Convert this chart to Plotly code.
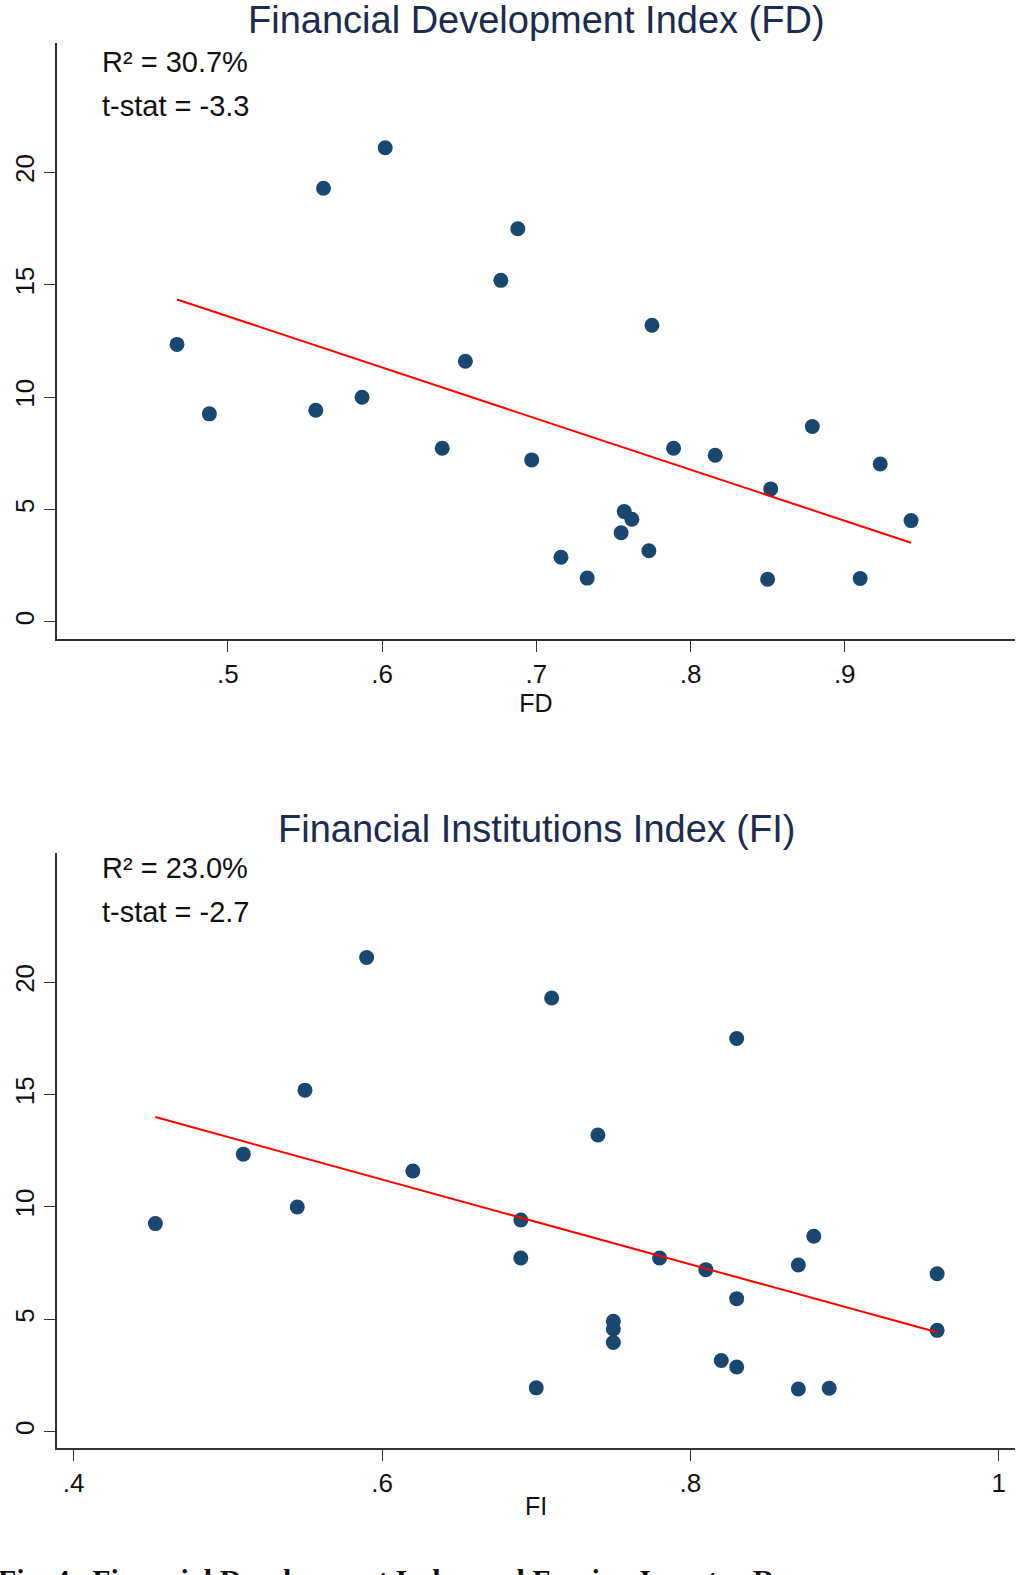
import numpy as np
import plotly.graph_objects as go

# ---- data ----
response = [21.1, 19.3, 17.5, 15.2, 13.2, 12.35, 11.6, 10.0, 9.26, 9.42,
            7.73, 7.73, 7.21, 7.42, 8.7, 7.03, 5.92, 4.51, 4.91, 4.57,
            3.97, 3.17, 2.88, 1.95, 1.9, 1.93]
fd = [0.602, 0.562, 0.688, 0.677, 0.775, 0.467, 0.654, 0.587, 0.488, 0.557,
      0.639, 0.789, 0.697, 0.816, 0.879, 0.923, 0.852, 0.943, 0.757, 0.762,
      0.755, 0.773, 0.716, 0.733, 0.850, 0.910]
fi = [0.59, 0.71, 0.83, 0.55, 0.74, 0.51, 0.62, 0.545, 0.453, 0.69,
      0.69, 0.78, 0.81, 0.87, 0.88, 0.96, 0.83, 0.96, 0.75, 0.75,
      0.75, 0.82, 0.83, 0.70, 0.87, 0.89]

titles = ["Financial Development Index (FD)", "Financial Institutions Index (FI)"]
xlabels = ["FD", "FI"]
stats = [["R² = 30.7%", "t-stat = -3.3"], ["R² = 23.0%", "t-stat = -2.7"]]
fd_ticks = [0.5, 0.6, 0.7, 0.8, 0.9]
fd_ticktext = [".5", ".6", ".7", ".8", ".9"]
fi_ticks = [0.4, 0.6, 0.8, 1.0]
fi_ticktext = [".4", ".6", ".8", "1"]
y_ticks = [0, 5, 10, 15, 20]
caption = "Fig. 4.  Financial Development Index and Foreign Investor Responses"

W, H = 1033, 1575
FONT = "Liberation Sans, Arial, sans-serif"
NAVY = "#1a476f"


def py(p):
    return 1 - p / H


def px(p):
    return p / W


fig = go.Figure()

for i, xs in enumerate([fd, fi]):
    xa = "x" if i == 0 else "x2"
    ya = "y" if i == 0 else "y2"
    fig.add_trace(go.Scatter(x=xs, y=response, mode="markers", xaxis=xa, yaxis=ya,
                             marker=dict(color=NAVY, size=15, line=dict(width=0)),
                             showlegend=False))
    b, a = np.polyfit(xs, response, 1)
    xl = [min(xs), max(xs)]
    fig.add_trace(go.Scatter(x=xl, y=[a + b * v for v in xl], mode="lines",
                             xaxis=xa, yaxis=ya,
                             line=dict(color="#ff0000", width=2), showlegend=False))

L, R = 56.7, 1015.3
xdom = [px(L), px(R)]
axis_common = dict(showgrid=False, zeroline=False, showline=True, linecolor="#333333",
                   linewidth=1.6, ticks="outside", ticklen=11, tickwidth=1.4,
                   tickcolor="#333333", tickfont=dict(family=FONT, size=26, color="#111111"))
xtitle_font = dict(family=FONT, size=25, color="#111111")

fig.update_layout(
    width=W, height=H, margin=dict(l=0, r=0, t=0, b=0),
    paper_bgcolor="white", plot_bgcolor="white",
    xaxis=dict(domain=xdom, range=[0.389, 1.0106], anchor="y",
               tickvals=fd_ticks, ticktext=fd_ticktext,
               title=dict(text=xlabels[0], font=xtitle_font, standoff=0), **axis_common),
    yaxis=dict(domain=[py(639), py(43.3)], range=[-0.76, 25.75], anchor="x",
               tickvals=y_ticks, tickangle=-90, **axis_common),
    xaxis2=dict(domain=xdom, range=[0.389, 1.0107], anchor="y2",
                tickvals=fi_ticks, ticktext=fi_ticktext,
                title=dict(text=xlabels[1], font=xtitle_font, standoff=0), **axis_common),
    yaxis2=dict(domain=[py(1448.3), py(853.3)], range=[-0.74, 25.74], anchor="x2",
                tickvals=y_ticks, tickangle=-90, **axis_common),
)

anns = []
title_y = [20, 829]
stat_y = [(62, 106), (868, 912)]
for i in range(2):
    anns.append(dict(text=titles[i], x=px((L + R) / 2), y=py(title_y[i]), xref="paper",
                     yref="paper", xanchor="center", yanchor="middle", showarrow=False,
                     font=dict(family=FONT, size=38, color="#1c2b4f")))
    for j in range(2):
        anns.append(dict(text=stats[i][j], x=px(100), y=py(stat_y[i][j]), xref="paper",
                         yref="paper", xanchor="left", yanchor="middle", showarrow=False,
                         font=dict(family=FONT, size=29, color="#111111")))
anns.append(dict(text="<b>" + caption + "</b>", x=px(-4), y=py(1561), xref="paper",
                 yref="paper", xanchor="left", yanchor="top", showarrow=False,
                 font=dict(family="Liberation Serif, Times New Roman, serif", size=30,
                           color="#111111")))
fig.update_layout(annotations=anns)

fig.write_html("out.html")
